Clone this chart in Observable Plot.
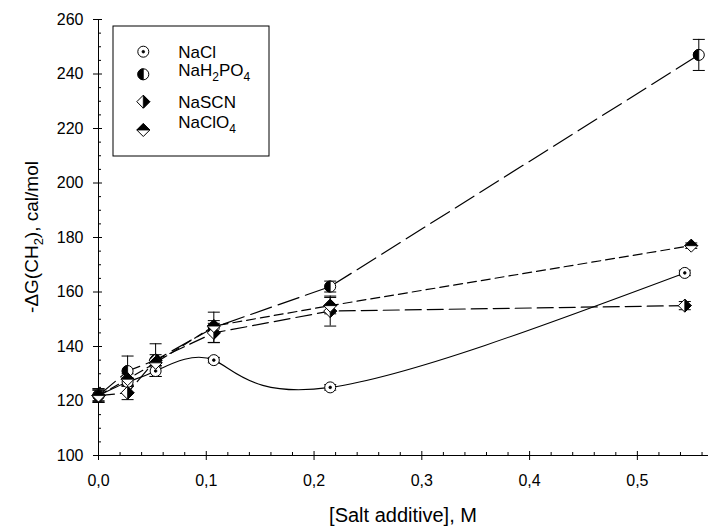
<!DOCTYPE html>
<html>
<head>
<meta charset="utf-8">
<script src="https://cdn.jsdelivr.net/npm/d3@7"></script>
<script src="https://cdn.jsdelivr.net/npm/@observablehq/plot@0.6"></script>
<style>
  body { margin: 0; background: #fff; }
  #chart { position: relative; width: 713px; height: 529px; }
</style>
</head>
<body>
<div id="chart"></div>
<script>
// Salt concentrations (M), free energies -ΔG(CH2) (cal/mol) and error bars
const naclX = [0, 0.027, 0.053, 0.107, 0.215, 0.544];
const naclY = [122, 127, 131, 135, 125, 167];
const naclErr = [2.5, 1.5, 2, 1, 1, 1];

const phosX = [0, 0.027, 0.053, 0.107, 0.215, 0.557];
const phosY = [122, 131, 135, 147, 162, 247];
const phosErr = [2.5, 5.5, 6, 5.6, 2, 5.7];

const scnX = [0, 0.027, 0.053, 0.107, 0.215, 0.544];
const scnY = [122, 123, 135, 145, 153, 155];
const scnErr = [2, 2.5, 2, 3.5, 5.5, 1.5];

const clo4X = [0, 0.027, 0.053, 0.107, 0.215, 0.55];
const clo4Y = [122, 128, 134, 147.5, 155, 177];
const clo4Err = [2, 2, 1.5, 2, 3, 1];

const xMajor = [0, 0.1, 0.2, 0.3, 0.4, 0.5];
const xMinor = d3.range(0, 0.57, 0.02).filter(v => Math.abs(v * 10 - Math.round(v * 10)) > 1e-6);
const yMajor = [100, 120, 140, 160, 180, 200, 220, 240, 260];
const yMinor = d3.range(100, 261, 5).filter(v => v % 20 !== 0);
const xDomain = [0, 0.566];

const rows = (xs, ys, es) => xs.map((x, i) => ({x, y: ys[i], e: es[i]}));
const nacl = rows(naclX, naclY, naclErr);
const phos = rows(phosX, phosY, phosErr);
const scn = rows(scnX, scnY, scnErr);
const clo4 = rows(clo4X, clo4Y, clo4Err);
const all = [...nacl, ...phos, ...scn, ...clo4];

// Marker shapes
const R = 5.5, D = 6.5;
const shapes = {
  circle: {draw(c) { c.moveTo(R, 0); c.arc(0, 0, R, 0, 2 * Math.PI); c.closePath(); }},
  dot: {draw(c) { c.moveTo(1.3, 0); c.arc(0, 0, 1.3, 0, 2 * Math.PI); c.closePath(); }},
  leftHalf: {draw(c) { c.moveTo(0, R); c.arc(0, 0, R, Math.PI / 2, 3 * Math.PI / 2); c.closePath(); }},
  diamond: {draw(c) { c.moveTo(0, -D); c.lineTo(D, 0); c.lineTo(0, D); c.lineTo(-D, 0); c.closePath(); }},
  rightHalf: {draw(c) { c.moveTo(0, -D); c.lineTo(D, 0); c.lineTo(0, D); c.closePath(); }},
  topHalf: {draw(c) { c.moveTo(-D, 0); c.lineTo(0, -D); c.lineTo(D, 0); c.closePath(); }},
  cap: {draw(c) { c.moveTo(-6, 0); c.lineTo(6, 0); }}
};

// Each series: outline shape (white fill) + black part
const series = [
  {name: "NaCl", data: nacl, outline: "circle", inner: "dot"},
  {name: "NaH2PO4", data: phos, outline: "circle", inner: "leftHalf"},
  {name: "NaSCN", data: scn, outline: "diamond", inner: "rightHalf"},
  {name: "NaClO4", data: clo4, outline: "diamond", inner: "topHalf"}
];

const markerMarks = series.flatMap(s => [
  Plot.dot(s.data, {x: "x", y: "y", symbol: shapes[s.outline], fill: "white", stroke: "black", strokeWidth: 1}),
  Plot.dot(s.data, {x: "x", y: "y", symbol: shapes[s.inner], fill: "black", stroke: "black", strokeWidth: 0.8})
]);

const fmt = d => d3.format(".1f")(d).replace(".", ",");

const chart = Plot.plot({
  width: 713,
  height: 529,
  marginLeft: 98,
  marginRight: 5,
  marginTop: 19,
  marginBottom: 74,
  style: {fontFamily: "'Liberation Sans', Arial, sans-serif", fontSize: "16px", background: "white", color: "black"},
  x: {domain: xDomain},
  y: {domain: [yMajor[0], yMajor[yMajor.length - 1]]},
  marks: [
    // axis lines
    Plot.ruleY([yMajor[0]], {stroke: "black", strokeWidth: 1}),
    Plot.ruleX([xMajor[0]], {stroke: "black", strokeWidth: 1}),
    // major ticks crossing the axis, minor ticks pointing inward
    Plot.axisX({ticks: xMajor, tickSize: 5, tickPadding: 14, tickFormat: fmt, label: null}),
    Plot.axisX({ticks: xMajor, tickSize: -4, tickFormat: () => "", label: null}),
    Plot.axisX({ticks: xMinor, tickSize: -3, tickFormat: () => "", label: null}),
    Plot.axisY({ticks: yMajor, tickSize: 5, tickPadding: 10, label: null}),
    Plot.axisY({ticks: yMajor, tickSize: -4, tickFormat: () => "", label: null}),
    Plot.axisY({ticks: yMinor, tickSize: -3, tickFormat: () => "", label: null}),
    // connecting lines
    Plot.line(nacl, {x: "x", y: "y", curve: "natural", stroke: "black", strokeWidth: 1.1}),
    Plot.line(phos, {x: "x", y: "y", stroke: "black", strokeWidth: 1.2, strokeDasharray: "22,7"}),
    Plot.line(scn, {x: "x", y: "y", stroke: "black", strokeWidth: 1.2, strokeDasharray: "16,6"}),
    Plot.line(clo4, {x: "x", y: "y", stroke: "black", strokeWidth: 1.2, strokeDasharray: "9,5"}),
    // error bars
    Plot.ruleX(all, {x: "x", y1: d => d.y - d.e, y2: d => d.y + d.e, stroke: "black", strokeWidth: 1}),
    Plot.dot(all, {x: "x", y: d => d.y - d.e, symbol: shapes.cap, stroke: "black", strokeWidth: 1}),
    Plot.dot(all, {x: "x", y: d => d.y + d.e, symbol: shapes.cap, stroke: "black", strokeWidth: 1}),
    ...markerMarks
  ]
});

document.getElementById("chart").append(chart);

const svg = d3.select(chart);
const font = "'Liberation Sans', Arial, sans-serif";

// the only texts so far are the axis tick labels: enlarge them
svg.selectAll("text").style("font-size", "16px").style("font-family", font);

// X axis title
svg.append("text")
  .attr("x", 403).attr("y", 522)
  .attr("text-anchor", "middle")
  .attr("font-family", font).attr("font-size", 20).attr("fill", "black")
  .text("[Salt additive], M");

// Y axis title with subscript
const yt = svg.append("text")
  .attr("transform", "translate(38,237) rotate(-90)")
  .attr("text-anchor", "middle")
  .attr("font-family", font)
  .attr("font-size", 19)
  .attr("fill", "black");
yt.append("tspan").text("-ΔG(CH");
yt.append("tspan").attr("font-size", 13).attr("dy", 5).text("2");
yt.append("tspan").attr("dy", -5).text("), cal/mol");

// Legend box
const lg = svg.append("g").attr("transform", "translate(113,26)");
lg.append("rect").attr("width", 156).attr("height", 130)
  .attr("fill", "white").attr("stroke", "black").attr("stroke-width", 1);

const legendParts = [
  [["NaCl", 0]],
  [["NaH", 0], ["2", 1], ["PO", 0], ["4", 1]],
  [["NaSCN", 0]],
  [["NaClO", 0], ["4", 1]]
];
const symbolY = [25.7, 48.3, 75.7, 104];
const textY = [31.8, 50.1, 81.8, 101.8];
series.forEach((s, i) => {
  const g = lg.append("g").attr("transform", `translate(30.3,${symbolY[i]})`);
  const p1 = d3.path(); shapes[s.outline].draw(p1);
  g.append("path").attr("d", p1.toString()).attr("fill", "white").attr("stroke", "black");
  const p2 = d3.path(); shapes[s.inner].draw(p2);
  g.append("path").attr("d", p2.toString()).attr("fill", "black").attr("stroke", "black").attr("stroke-width", 0.8);
  const t = lg.append("text").attr("x", 65.3).attr("y", textY[i])
    .attr("text-anchor", "start")
    .attr("font-family", font).attr("font-size", 17).attr("fill", "black");
  let sub = false;
  legendParts[i].forEach(([txt, isSub]) => {
    const ts = t.append("tspan").text(txt);
    if (isSub && !sub) { ts.attr("font-size", 12).attr("dy", 5); sub = true; }
    else if (!isSub && sub) { ts.attr("dy", -5); sub = false; }
    else if (isSub) ts.attr("font-size", 12);
  });
});
</script>
</body>
</html>
